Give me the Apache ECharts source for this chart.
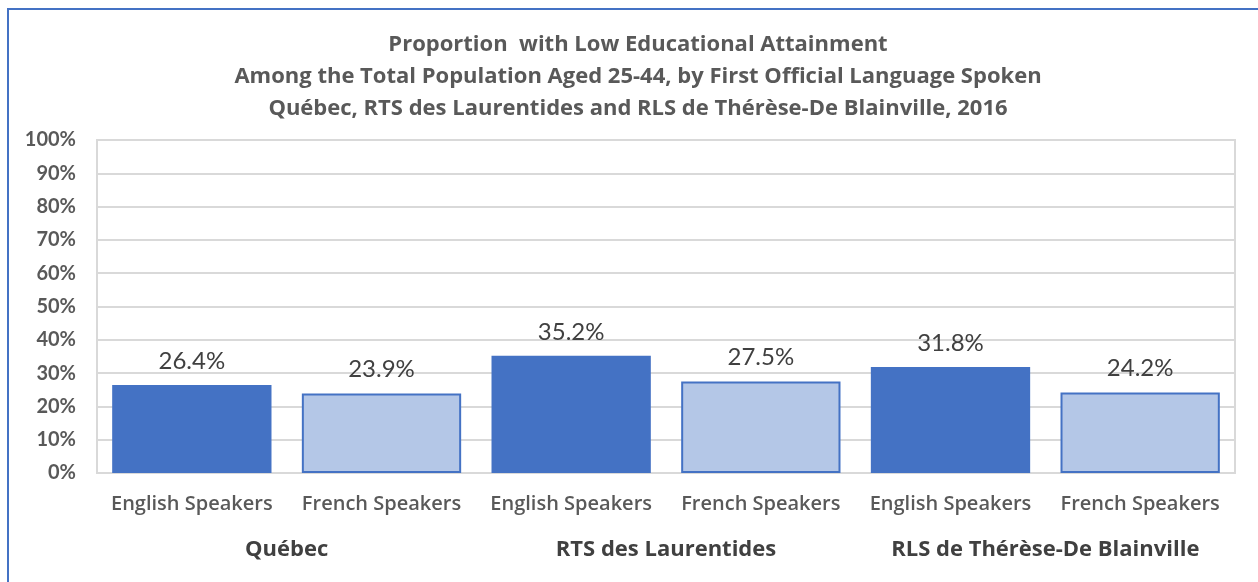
<!DOCTYPE html>
<html lang="en">
<head>
    <meta charset="UTF-8">
    <title>Proportion with Low Educational Attainment</title>
    <script src="https://cdn.jsdelivr.net/npm/echarts@6.0.0/dist/echarts.min.js"></script>
    <style>
        html, body {
            margin: 0;
            padding: 0;
            background: #ffffff;
        }
        #chart {
            width: 1258px;
            height: 582px;
        }
    </style>
</head>
<body>
    <div id="chart"></div>

    <script>
        // data
        const speakers = ['English Speakers', 'French Speakers', 'English Speakers', 'French Speakers', 'English Speakers', 'French Speakers'];
        const regions = ['Québec', 'RTS des Laurentides', 'RLS de Thérèse-De Blainville'];
        const values = [26.4, 23.9, 35.2, 27.5, 31.8, 24.2];
        const titleLines = [
            'Proportion  with Low Educational Attainment',
            'Among the Total Population Aged 25-44, by First Official Language Spoken',
            'Québec, RTS des Laurentides and RLS de Thérèse-De Blainville, 2016'
        ];

        const FONT = 'Lato, "Open Sans", sans-serif';
        const WIDE = '"Open Sans", Lato, sans-serif';
        const chart = echarts.init(document.getElementById('chart'));

        // English bars are solid blue, French bars light blue with blue outline
        const barData = values.map(function (v, i) {
            const english = i % 2 === 0;
            return {
                value: v,
                itemStyle: english
                    ? { color: '#4472C4' }
                    : { color: '#B4C7E7', borderColor: '#4472C4', borderWidth: 2 }
            };
        });

        const option = {
            animation: false,
            backgroundColor: '#ffffff',
            textStyle: { fontFamily: FONT },
            graphic: [{
                type: 'rect',
                shape: { x: 8, y: 9, width: 1300, height: 640 },
                style: { fill: 'none', stroke: '#4472C4', lineWidth: 2 },
                silent: true
            }],
            title: {
                text: titleLines.join('\n'),
                left: 633,
                top: 24,
                textAlign: 'center',
                textStyle: {
                    fontFamily: WIDE,
                    fontSize: 22,
                    fontWeight: 'bold',
                    color: '#595959',
                    lineHeight: 32
                }
            },
            grid: {
                left: 97,
                right: 23,
                top: 140,
                bottom: 109,
                show: true,
                borderColor: '#d9d9d9',
                borderWidth: 2
            },
            xAxis: [
                {
                    type: 'category',
                    data: speakers,
                    position: 'bottom',
                    axisLine: { show: true, lineStyle: { color: '#d9d9d9', width: 2 } },
                    axisTick: { show: false },
                    axisLabel: {
                        interval: 0,
                        margin: 21,
                        fontFamily: WIDE,
                        fontSize: 20,
                        fontWeight: 600,
                        color: '#595959'
                    }
                },
                {
                    type: 'category',
                    data: regions,
                    position: 'bottom',
                    offset: 58,
                    axisLine: { show: false },
                    axisTick: { show: false },
                    axisLabel: {
                        interval: 0,
                        margin: 8,
                        fontFamily: WIDE,
                        fontSize: 22,
                        fontWeight: 'bold',
                        color: '#404040'
                    }
                }
            ],
            yAxis: {
                type: 'value',
                min: 0,
                max: 100,
                interval: 10,
                axisLine: { show: false },
                axisTick: { show: false },
                splitLine: { lineStyle: { color: '#d9d9d9', width: 2 } },
                axisLabel: {
                    formatter: '{value}%',
                    margin: 21,
                    fontFamily: FONT,
                    fontSize: 20,
                    fontWeight: 'bold',
                    color: '#595959'
                }
            },
            series: [{
                type: 'bar',
                xAxisIndex: 0,
                data: barData,
                barCategoryGap: '16%',
                label: {
                    show: true,
                    position: 'top',
                    distance: 12,
                    formatter: function (p) { return p.value.toFixed(1) + '%'; },
                    fontFamily: FONT,
                    fontSize: 24,
                    color: '#404040'
                }
            }]
        };

        chart.setOption(option);

        window.addEventListener('resize', function () {
            chart.resize();
        });
    </script>
</body>
</html>
